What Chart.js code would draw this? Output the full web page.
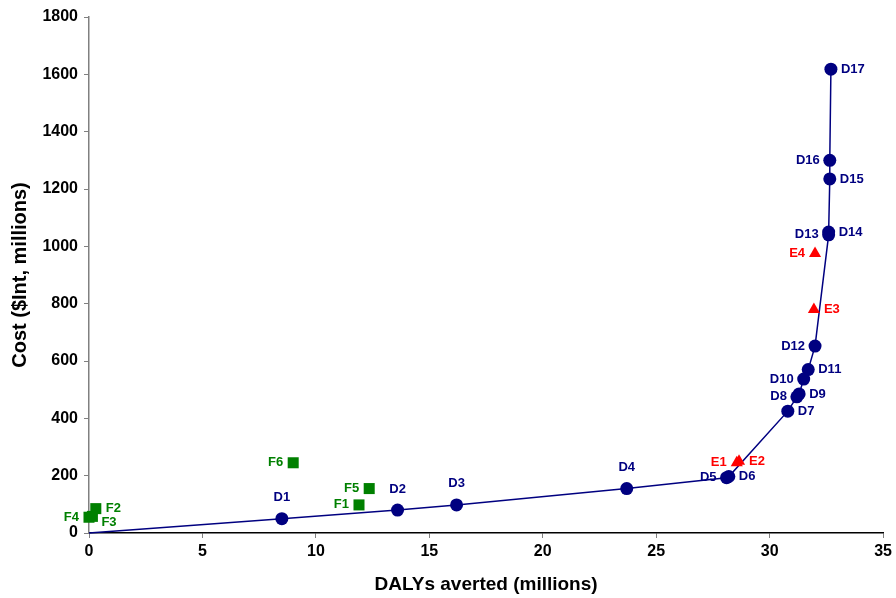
<!DOCTYPE html>
<html>
<head>
<meta charset="utf-8">
<script src="https://cdn.jsdelivr.net/npm/chart.js@4/dist/chart.umd.min.js"></script>
<style>
  html, body { margin: 0; padding: 0; background: #fff; }
  #wrap { width: 896px; height: 598px; }
</style>
</head>
<body>
<div id="wrap"><canvas id="cea"></canvas></div>
<script>
// D 系列 (曲線上的點)
const dNames = ['D1','D2','D3','D4','D5','D6','D7','D8','D9','D10','D11','D12','D13','D14','D15','D16','D17'];
const dX = [8.5, 13.6, 16.2, 23.7, 28.1, 28.2, 30.8, 31.2, 31.3, 31.5, 31.7, 32.0, 32.6, 32.6, 32.65, 32.65, 32.7];
const dY = [50, 80, 98, 155, 193, 197, 425, 475, 485, 537, 570, 652, 1040, 1050, 1235, 1300, 1618];
const dPos = ['above','above','above','above','left','right','right','left','right','left','right','left','left','right','right','left','right'];

// E 系列
const eNames = ['E1','E2','E3','E4'];
const eX = [28.55, 28.65, 31.95, 32.0];
const eY = [245, 250, 780, 975];
const ePos = ['left','right','right','left'];

// F 系列
const fNames = ['F1','F2','F3','F4','F5','F6'];
const fX = [11.9, 0.3, 0.15, 0.0, 12.35, 9.0];
const fY = [98, 85, 58, 55, 155, 245];
const fPos = ['left','right','belowright','left','left','left'];

const xTicks = [0, 5, 10, 15, 20, 25, 30, 35];
const yTicks = [0, 200, 400, 600, 800, 1000, 1200, 1400, 1600, 1800];

function toPoints(xs, ys) {
  let pts = [];
  for (let i = 0; i < xs.length; i++) {
    pts.push({ x: xs[i], y: ys[i] });
  }
  return pts;
}

// 曲線從原點開始
const dPoints = [{ x: 0, y: 0 }].concat(toPoints(dX, dY));
const dRadius = [0].concat(dX.map(() => 6.5));

// 在點旁邊畫標籤
const pointLabels = {
  id: 'pointLabels',
  afterDatasetsDraw(chart) {
    const ctx = chart.ctx;
    ctx.save();
    ctx.font = 'bold 13px "Liberation Sans", Arial, sans-serif';
    chart.data.datasets.forEach((ds, di) => {
      if (!ds.names) return;
      const meta = chart.getDatasetMeta(di);
      const off = ds.names.length < meta.data.length ? 1 : 0;
      ds.names.forEach((name, i) => {
        const el = meta.data[i + off];
        const pos = ds.namePos[i];
        ctx.fillStyle = ds.nameColor;
        let x = el.x, y = el.y;
        ctx.textBaseline = 'middle';
        if (pos === 'above') {
          ctx.textAlign = 'center';
          y -= 21;
        } else if (pos === 'left') {
          ctx.textAlign = 'right';
          x -= 10;
        } else if (pos === 'belowright') {
          ctx.textAlign = 'left';
          x += 9;
          y += 6;
        } else {
          ctx.textAlign = 'left';
          x += 10;
        }
        ctx.fillText(name, x, y);
      });
    });
    ctx.restore();
  }
};

const tickFont = { family: '"Liberation Sans", Arial, sans-serif', size: 16, weight: 'bold' };

new Chart(document.getElementById('cea'), {
  type: 'scatter',
  data: {
    datasets: [
      {
        label: 'D',
        data: dPoints,
        showLine: true,
        borderColor: '#000080',
        borderWidth: 1.5,
        backgroundColor: '#000080',
        pointBackgroundColor: '#000080',
        pointBorderColor: '#000080',
        pointBorderWidth: 0,
        pointRadius: dRadius,
        pointStyle: 'circle',
        names: dNames,
        namePos: dPos,
        nameColor: '#000080',
        clip: false,
        order: 3
      },
      {
        label: 'E',
        data: toPoints(eX, eY),
        pointStyle: 'triangle',
        pointRadius: 7,
        pointBorderWidth: 0,
        backgroundColor: '#ff0000',
        borderColor: '#ff0000',
        names: eNames,
        namePos: ePos,
        nameColor: '#ff0000',
        clip: false,
        order: 1
      },
      {
        label: 'F',
        data: toPoints(fX, fY),
        pointStyle: 'rect',
        pointRadius: 7.8,
        pointBorderWidth: 0,
        backgroundColor: '#008000',
        borderColor: '#008000',
        names: fNames,
        namePos: fPos,
        nameColor: '#008000',
        clip: false,
        order: 2
      }
    ]
  },
  options: {
    responsive: true,
    maintainAspectRatio: false,
    animation: false,
    events: [],
    layout: { padding: { top: 17, right: 12, left: 0, bottom: 0 } },
    plugins: {
      legend: { display: false },
      tooltip: { enabled: false }
    },
    scales: {
      x: {
        type: 'linear',
        min: 0,
        max: 35,
        afterBuildTicks: (s) => { s.ticks = xTicks.map(v => ({ value: v })); },
        afterFit: (s) => { s.height = 65; },
        border: { color: '#000000', width: 1.5 },
        grid: { drawOnChartArea: false, drawTicks: true, tickLength: 5, color: '#808080' },
        ticks: { font: tickFont, color: '#000000', padding: 4, callback: (v) => String(v) },
        title: {
          display: true, text: 'DALYs averted (millions)', color: '#000000',
          font: { family: '"Liberation Sans", Arial, sans-serif', size: 19, weight: 'bold' },
          padding: { top: 4, bottom: 2 }
        }
      },
      y: {
        type: 'linear',
        min: 0,
        max: 1800,
        afterBuildTicks: (s) => { s.ticks = yTicks.map(v => ({ value: v })); },
        afterFit: (s) => { s.width = 89; },
        border: { color: '#808080', width: 1.5 },
        grid: { drawOnChartArea: false, drawTicks: true, tickLength: 5, color: '#808080' },
        ticks: { font: tickFont, color: '#000000', padding: 6, callback: (v) => String(v) },
        title: {
          display: true, text: 'Cost ($Int, millions)', color: '#000000',
          font: { family: '"Liberation Sans", Arial, sans-serif', size: 20, weight: 'bold' },
          padding: { top: 8, bottom: 4 }
        }
      }
    }
  },
  plugins: [pointLabels]
});
</script>
</body>
</html>
